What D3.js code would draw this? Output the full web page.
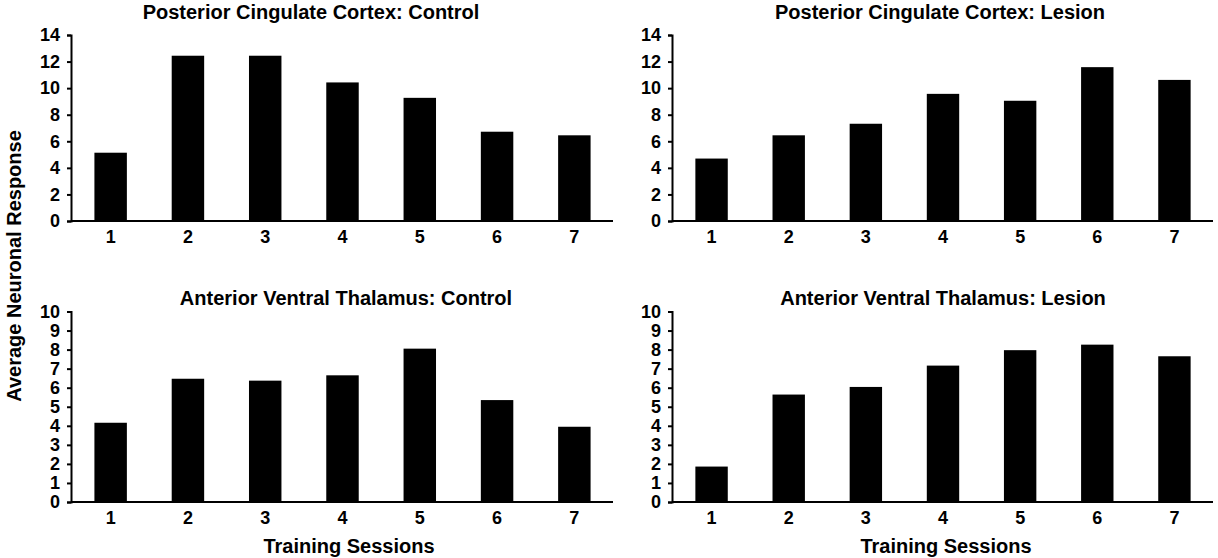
<!DOCTYPE html>
<html lang="en">
<head>
<meta charset="UTF-8">
<title>Average Neuronal Response by Training Session</title>
<script src="https://d3js.org/d3.v7.min.js"></script>
<style>
    body { margin: 0; background: #fff; }
    text { font-family: "Liberation Sans", Arial, sans-serif; font-weight: bold; fill: #000; }
    .axis path, .axis line { stroke: #000; stroke-width: 2; }
    .axis text { font-size: 18px; }
    .label { font-size: 20px; }
</style>
</head>
<body>
<div id="chart"></div>
<script>
    const width = 1218;
    const height = 558;

    // data
    const sessions = ["1", "2", "3", "4", "5", "6", "7"];
    const pccControl = [5.14, 12.44, 12.44, 10.43, 9.27, 6.72, 6.45];
    const pccLesion = [4.70, 6.45, 7.32, 9.57, 9.05, 11.58, 10.62];
    const avtControl = [4.16, 6.47, 6.37, 6.65, 8.05, 5.35, 3.95];
    const avtLesion = [1.86, 5.64, 6.04, 7.16, 7.97, 8.26, 7.65];
    const pccTicks = [0, 2, 4, 6, 8, 10, 12, 14];
    const avtTicks = [0, 1, 2, 3, 4, 5, 6, 7, 8, 9, 10];

    const svg = d3.select("#chart")
        .append("svg")
        .attr("width", width)
        .attr("height", height)
        .style("display", "block");

    const panels = [
        { title: "Posterior Cingulate Cortex: Control", values: pccControl, ticks: pccTicks, max: 14,
          x0: 71, x1: 613, y0: 221, y1: 35, titleX: 311, titleY: 19 },
        { title: "Posterior Cingulate Cortex: Lesion", values: pccLesion, ticks: pccTicks, max: 14,
          x0: 672, x1: 1213, y0: 221, y1: 35, titleX: 940, titleY: 19 },
        { title: "Anterior Ventral Thalamus: Control", values: avtControl, ticks: avtTicks, max: 10,
          x0: 71, x1: 613, y0: 502, y1: 311.5, titleX: 346, titleY: 305 },
        { title: "Anterior Ventral Thalamus: Lesion", values: avtLesion, ticks: avtTicks, max: 10,
          x0: 672, x1: 1213, y0: 502, y1: 311.5, titleX: 943, titleY: 305 }
    ];

    function drawPanel(p) {
        const g = svg.append("g");

        const x = d3.scaleBand()
            .domain(sessions)
            .range([p.x0 + 1, p.x1])
            .paddingInner(0.58)
            .paddingOuter(0.29);

        const y = d3.scaleLinear()
            .domain([0, p.max])
            .range([p.y0, p.y1]);

        g.selectAll("rect")
            .data(p.values)
            .enter()
            .append("rect")
            .attr("x", (d, i) => x(sessions[i]))
            .attr("y", d => y(d))
            .attr("width", x.bandwidth())
            .attr("height", d => y(0) - y(d))
            .attr("fill", "#000");

        // y axis
        g.append("g")
            .attr("class", "axis")
            .attr("transform", `translate(${p.x0}, 0)`)
            .call(d3.axisLeft(y).tickValues(p.ticks).tickSize(4).tickSizeOuter(4).tickPadding(7));

        // x axis, no ticks
        const xa = g.append("g")
            .attr("class", "axis")
            .attr("transform", `translate(0, ${p.y0})`)
            .call(d3.axisBottom(x).tickSize(0).tickPadding(9));
        xa.select(".domain").attr("d", `M${p.x0},0H${p.x1}`);

        g.append("text")
            .attr("class", "label")
            .attr("x", p.titleX)
            .attr("y", p.titleY)
            .attr("text-anchor", "middle")
            .text(p.title);
    }

    panels.forEach(drawPanel);

    // shared labels
    svg.append("text")
        .attr("class", "label")
        .attr("transform", "translate(21, 266) rotate(-90)")
        .attr("text-anchor", "middle")
        .text("Average Neuronal Response");

    svg.append("text")
        .attr("class", "label")
        .attr("x", 349)
        .attr("y", 553)
        .attr("text-anchor", "middle")
        .text("Training Sessions");

    svg.append("text")
        .attr("class", "label")
        .attr("x", 946)
        .attr("y", 553)
        .attr("text-anchor", "middle")
        .text("Training Sessions");
</script>
</body>
</html>
